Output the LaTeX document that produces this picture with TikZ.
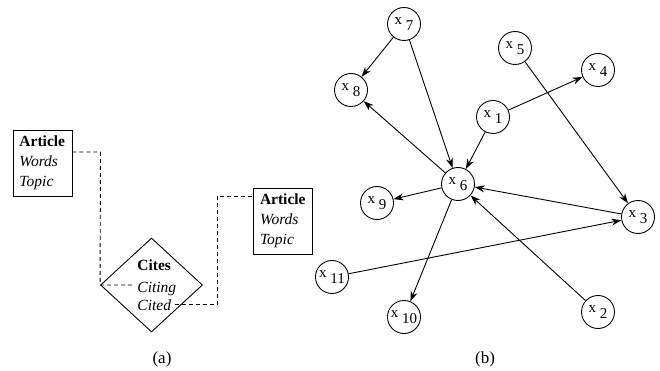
\documentclass[tikz,border=0pt]{standalone}
\usepackage{fontspec}
\setmainfont{Liberation Serif}
\usetikzlibrary{arrows.meta,shapes.geometric}
\begin{document}
\begin{tikzpicture}[x=1pt,y=-1pt,line width=0.9pt,
  vnode/.style={circle,draw,minimum size=33pt,inner sep=0pt,font=\fontsize{15pt}{18pt}\selectfont},
  edge/.style={-{Stealth[length=10pt,width=7pt]}},
  entbox/.style={rectangle,draw,align=left,text width=46pt,inner xsep=6.5pt,minimum height=66pt,font=\fontsize{15.5pt}{20pt}\selectfont},
  lbl/.style={font=\fontsize{15.5pt}{18pt}\selectfont,inner sep=3pt},
  caplabel/.style={font=\fontsize{17pt}{20pt}\selectfont,inner sep=2pt},
  conn/.style={dash pattern=on 4pt off 3pt}]
\useasboundingbox (0,0) rectangle (660,371);
\newcommand{\xv}[1]{x \raisebox{-0.42em}{#1}}
% (a)
\node[entbox] (box1) at (42.5,163) {\textbf{Article}\\\textit{Words}\\\textit{Topic}};
\node[entbox] (box2) at (283,221) {\textbf{Article}\\\textit{Words}\\\textit{Topic}};
\node[diamond,draw,minimum width=102pt,minimum height=94pt,inner sep=0pt] (cites) at (151.5,285) {};
\node[lbl,anchor=base west] (citeslbl) at (134,270) {\textbf{Cites}};
\node[lbl,anchor=base west] (citing) at (134,292) {\textit{Citing}};
\node[lbl,anchor=base west] (cited) at (134,310) {\textit{Cited}};
\coordinate (p1) at (100.5,152);
\coordinate (p2) at (217,196);
\draw[conn] (box1.east |- p1) -- (p1) -- (cites.west) -- (cites.west -| citing.west);
\draw[conn] (cited.east) -| (p2) -- (box2.west |- p2);
\node[caplabel] (alab) at (162,359) {(a)};
% (b)
\node[vnode] (x1) at (493,117) {\xv{1}};
\node[vnode] (x2) at (598,312) {\xv{2}};
\node[vnode] (x3) at (638,217) {\xv{3}};
\node[vnode] (x4) at (598,70) {\xv{4}};
\node[vnode] (x5) at (515,48) {\xv{5}};
\node[vnode] (x6) at (458,184) {\xv{6}};
\node[vnode] (x7) at (404,24) {\xv{7}};
\node[vnode] (x8) at (351,90) {\xv{8}};
\node[vnode] (x9) at (377,203) {\xv{9}};
\node[vnode] (x10) at (404,317) {\xv{10}};
\node[vnode] (x11) at (332,277) {\xv{11}};
\draw[edge] (x7) -- (x8);
\draw[edge] (x7) -- (x6);
\draw[edge] (x1) -- (x4);
\draw[edge] (x1) -- (x6);
\draw[edge] (x5) -- (x3);
\draw[edge] (x6) -- (x8);
\draw[edge] (x6) -- (x9);
\draw[edge] (x3) -- (x6);
\draw[edge] (x2) -- (x6);
\draw[edge] (x6) -- (x10);
\draw[edge] (x11) -- (x3);
\node[caplabel] (blab) at (485,359) {(b)};
\end{tikzpicture}
\end{document}
